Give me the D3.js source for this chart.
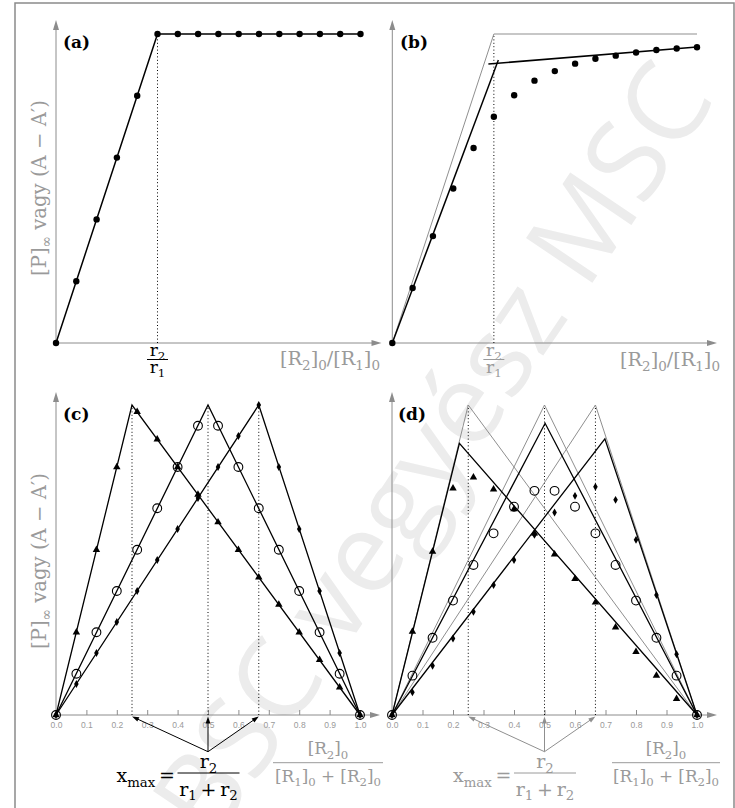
<!DOCTYPE html>
<html><head><meta charset="utf-8">
<script src="https://cdnjs.cloudflare.com/ajax/libs/d3/7.8.5/d3.min.js"></script>
<style>body{margin:0;background:#fff}svg{display:block}</style>
</head><body>
<svg id="c" width="735" height="808"></svg>
<script>
// ---------------- DATA ----------------
// Panels (a),(b): x = [R2]0/[R1]0
const ratioX = [0,0.1,0.2,0.3,0.4,0.5,0.6,0.7,0.8,0.9,1.0,1.1,1.2,1.3,1.4,1.5];
const r2r1 = 0.5;
const pA = [0,0.2,0.4,0.6,0.8,1,1,1,1,1,1,1,1,1,1,1];
const pB = [0,0.178,0.346,0.500,0.631,0.732,0.802,0.849,0.880,0.904,0.920,0.930,0.940,0.948,0.953,0.957];
const idealAB = [[0,0],[0.5,1],[1.5,1]];
const fitB1 = [[0,0],[0.522,0.916]];
const fitB2 = [[0.473,0.903],[1.5,0.958]];
// Panels (c),(d): x = [R2]0/([R1]0+[R2]0)
const molX = [0,0.067,0.133,0.2,0.267,0.333,0.4,0.467,0.533,0.6,0.667,0.733,0.8,0.867,0.933,1.0];
const xmaxVals = [0.25,0.5,0.667];
const triC = [0,0.267,0.533,0.8,0.978,0.889,0.8,0.711,0.622,0.533,0.444,0.356,0.267,0.178,0.089,0];
const cirC = [0,0.133,0.267,0.4,0.533,0.667,0.8,0.933,0.933,0.8,0.667,0.533,0.4,0.267,0.133,0];
const diaC = [0,0.1,0.2,0.3,0.4,0.5,0.6,0.7,0.8,0.9,1.0,0.8,0.6,0.4,0.2,0];
const idealTri = [[0,0],[0.25,1],[1,0]];
const idealCir = [[0,0],[0.5,1],[1,0]];
const idealDia = [[0,0],[0.667,1],[1,0]];
const triD = [0,0.269,0.527,0.731,0.767,0.728,0.664,0.586,0.518,0.439,0.363,0.283,0.204,0.127,0.052,0];
const cirD = [0,0.127,0.249,0.369,0.484,0.586,0.672,0.723,0.723,0.672,0.586,0.484,0.369,0.249,0.127,0];
const diaD = [0,0.073,0.159,0.247,0.333,0.419,0.5,0.581,0.653,0.707,0.736,0.694,0.565,0.387,0.196,0];
const fitTri = [[0,0],[0.221,0.876],[1,0]];
const fitCir = [[0,0],[0.502,0.941],[1,0]];
const fitDia = [[0,0],[0.698,0.891],[1,0]];
const tickVals = [0,0.1,0.2,0.3,0.4,0.5,0.6,0.7,0.8,0.9,1.0];

// ---------------- STYLE ----------------
const GRAY = "#8c8c8c", TXT = "#9a9a9a", LGRAY="#8f8f8f";
const SERIF = "'DejaVu Serif', 'Liberation Serif', serif";
const SANS = "'Liberation Sans', Arial, sans-serif";
const svg = d3.select("#c");

// watermark
svg.append("text")
  .attr("transform","translate(440,455) rotate(-56)")
  .attr("text-anchor","middle").attr("dominant-baseline","middle")
  .attr("fill","#ececec").style("font-family","'Open Sans', sans-serif")
  .style("font-size","112px").text("BSC vegyész MSC");

// frame
svg.append("rect").attr("x",15).attr("y",3).attr("width",719).attr("height",815)
  .attr("fill","none").attr("stroke","#8a8a8a").attr("stroke-width",1.5);

// ---------------- HELPERS ----------------
function arrow(g,x1,y1,x2,y2,color,len,hw,sw){
  const a = Math.atan2(y2-y1,x2-x1), c=Math.cos(a), s=Math.sin(a);
  const bx = x2-len*c, by = y2-len*s;
  g.append("line").attr("x1",x1).attr("y1",y1).attr("x2",bx+c).attr("y2",by+s)
    .attr("stroke",color).attr("stroke-width",sw);
  g.append("path").attr("d",`M${x2},${y2}L${bx-hw*s},${by+hw*c}L${bx+hw*s},${by-hw*c}Z`).attr("fill",color);
}
function mtext(g,x,y,segs,size,color,anchor){
  const t = g.append("text").attr("x",x).attr("y",y).attr("fill",color)
    .style("font-family",SERIF).style("font-size",size+"px").attr("text-anchor",anchor||"start");
  let shift=0;
  segs.forEach(([s,sub])=>{
    const target = sub ? size*0.26 : 0;
    const ts = t.append("tspan").text(s).attr("dy",target-shift);
    if(sub) ts.style("font-size",(size*0.7)+"px");
    shift=target;
  });
  return t;
}
function measure(segs,size){
  const t = mtext(svg,0,-100,segs,size,"#000","start");
  const w = t.node().getComputedTextLength(); t.remove(); return w;
}
function fitSize(segs,size,w){ return size*w/measure(segs,size); }
function frac(g,cx,barY,num,den,size,color,barW,numOff,denOff){
  mtext(g,cx,barY-numOff,num,size,color,"middle");
  mtext(g,cx,barY+denOff,den,size,color,"middle");
  g.append("line").attr("x1",cx-barW/2).attr("x2",cx+barW/2).attr("y1",barY).attr("y2",barY)
    .attr("stroke",color).attr("stroke-width",1);
}
const ySegs = [["[P]",0],["∞",1],[" vagy (A − A′)",0]];
function ylabel(g,x,cy){
  const fs = fitSize(ySegs,17,176);
  mtext(g,0,0,ySegs,fs,TXT,"middle").attr("transform",`translate(${x},${cy}) rotate(-90)`);
}
function panelLabel(g,x,y,s){
  g.append("text").attr("x",x).attr("y",y).text(s).style("font-family",SERIF)
   .style("font-weight","bold").style("font-size","17px").attr("fill","#000");
}
function dotted(g,x,y1,y2){
  g.append("line").attr("x1",x).attr("x2",x).attr("y1",y1).attr("y2",y2)
    .attr("stroke","#000").attr("stroke-width",1).attr("stroke-dasharray","1,2.4");
}
function poly(g,x,y,pts,color,sw){
  g.append("path").datum(pts).attr("d",d3.line().x(d=>x(d[0])).y(d=>y(d[1])))
    .attr("fill","none").attr("stroke",color).attr("stroke-width",sw).attr("stroke-linejoin","miter");
}
function markers(g,x,y,xs,ys,type){
  const pts = xs.map((v,i)=>[v,ys[i]]);
  if(type==="dot"){
    g.selectAll(null).data(pts).enter().append("circle").attr("cx",d=>x(d[0])).attr("cy",d=>y(d[1]))
      .attr("r",3.2).attr("fill","#000");
  } else if(type==="circle"){
    g.selectAll(null).data(pts).enter().append("circle").attr("cx",d=>x(d[0])).attr("cy",d=>y(d[1]))
      .attr("r",4.4).attr("fill","none").attr("stroke","#000").attr("stroke-width",1.1);
  } else {
    const sym = type==="tri" ? d3.symbol(d3.symbolTriangle,24) : d3.symbol(d3.symbolDiamond,18);
    g.selectAll(null).data(pts).enter().append("path").attr("d",sym)
      .attr("transform",d=>`translate(${x(d[0])},${y(d[1])})`).attr("fill","#000");
  }
}
const rSegs = [["[R",0],["2",1],["]",0],["0",1],["/[R",0],["1",1],["]",0],["0",1]];
function rLabel(g,cx,y){
  mtext(g,cx,y,rSegs,fitSize(rSegs,16,100),TXT,"middle");
}
const fracNumR = [["[R",0],["2",1],["]",0],["0",1]];
const fracDenR = [["[R",0],["1",1],["]",0],["0",1],[" + ",0],["[R",0],["2",1],["]",0],["0",1]];
const xmNum = [["r",0],["2",1]];
const xmDen = [["r",0],["1",1],["\u2009+\u2009",0],["r",0],["2",1]];
const xmLeft = [["x",0],["max",1],["\u2009=",0]];

// ---------------- PANEL (a) ----------------
{
  const g = svg.append("g");
  const x = d3.scaleLinear().domain([0,1.5]).range([56,360.5]);
  const y = d3.scaleLinear().domain([0,1]).range([343,34]);
  arrow(g,x(0),y(0),x.range()[1]+21,y(0),GRAY,10,3,1);
  arrow(g,x(0),y(0),x(0),20,GRAY,10,3,1);
  dotted(g,x(r2r1),y(0),y(1));
  poly(g,x,y,idealAB,"#000",1.5);
  markers(g,x,y,ratioX,pA,"dot");
  panelLabel(g,63,48,"(a)");
  ylabel(g,46,188);
  frac(g,x(r2r1),359.5,[["r",0],["2",1]],[["r",0],["1",1]],17,"#000",21,4,13);
  rLabel(g,330,365);
}
// ---------------- PANEL (b) ----------------
{
  const g = svg.append("g");
  const x = d3.scaleLinear().domain([0,1.5]).range([392.3,697]);
  const y = d3.scaleLinear().domain([0,1]).range([343,34]);
  arrow(g,x(0),y(0),x.range()[1]+20,y(0),GRAY,10,3,1);
  arrow(g,x(0),y(0),x(0),20,GRAY,10,3,1);
  dotted(g,x(r2r1),y(0),y(1));
  poly(g,x,y,idealAB,LGRAY,1);
  poly(g,x,y,fitB1,"#000",1.5);
  poly(g,x,y,fitB2,"#000",1.5);
  markers(g,x,y,ratioX,pB,"dot");
  panelLabel(g,400,48,"(b)");
  frac(g,x(r2r1),359.5,[["r",0],["2",1]],[["r",0],["1",1]],17,TXT,21,4,13);
  rLabel(g,670,366);
}
// ---------------- PANELS (c),(d) ----------------
function bottomPanel(x0,x1,label,isD){
  const g = svg.append("g");
  const x = d3.scaleLinear().domain([0,1]).range([x0,x1]);
  const y = d3.scaleLinear().domain([0,1]).range([715,405]);
  const ax = g.append("g").attr("transform",`translate(0,${y(0)})`)
    .call(d3.axisBottom(x).tickValues(tickVals).tickFormat(d3.format(".1f"))
      .tickSizeInner(-5).tickSizeOuter(0).tickPadding(7));
  ax.select(".domain").remove();
  ax.attr("font-family",SANS).attr("font-size",8.5);
  ax.selectAll("line").attr("stroke",GRAY);
  ax.selectAll("text").attr("fill",TXT);
  arrow(g,x(0),y(0),x(1)+20,y(0),GRAY,10,3,1);
  arrow(g,x(0),y(0),x(0),392,GRAY,10,3,1);
  xmaxVals.forEach(v=>dotted(g,x(v),y(0),y(1)));
  if(isD){
    [idealTri,idealCir,idealDia].forEach(p=>poly(g,x,y,p,LGRAY,1));
    [fitTri,fitCir,fitDia].forEach(p=>poly(g,x,y,p,"#000",1.3));
    markers(g,x,y,molX,triD,"tri");
    markers(g,x,y,molX,cirD,"circle");
    markers(g,x,y,molX,diaD,"dia");
  } else {
    [idealTri,idealCir,idealDia].forEach(p=>poly(g,x,y,p,"#000",1.3));
    markers(g,x,y,molX,triC,"tri");
    markers(g,x,y,molX,cirC,"circle");
    markers(g,x,y,molX,diaC,"dia");
  }
  panelLabel(g,x0+(isD?6:7),420,label);
  // arrows to xmax
  const col = isD ? LGRAY : "#000";
  const apx = x(0.5), apy = 751.7;
  xmaxVals.forEach(v=>arrow(g,apx,apy,x(v),y(0)+1.5,col,7,2.4,1));
  // formula x_max
  const tcol = isD ? TXT : "#000";
  const fs = 19;
  mtext(g,apx-33,782,xmLeft,fs,tcol,"end");
  frac(g,apx+0.5,773,xmNum,xmDen,fs,tcol,62,5,22.5);
  return x;
}
bottomPanel(56,360,"(c)",false);
bottomPanel(392,697,"(d)",true);
// gray fractions
{
  const g = svg.append("g");
  const fs = fitSize(fracDenR,17,106);
  frac(g,328,762.7,fracNumR,fracDenR,fs,TXT,110,8.5,19);
  frac(g,666,762.7,fracNumR,fracDenR,fs,TXT,108,8.5,19);
  ylabel(g,46,561);
}
</script>
</body></html>
